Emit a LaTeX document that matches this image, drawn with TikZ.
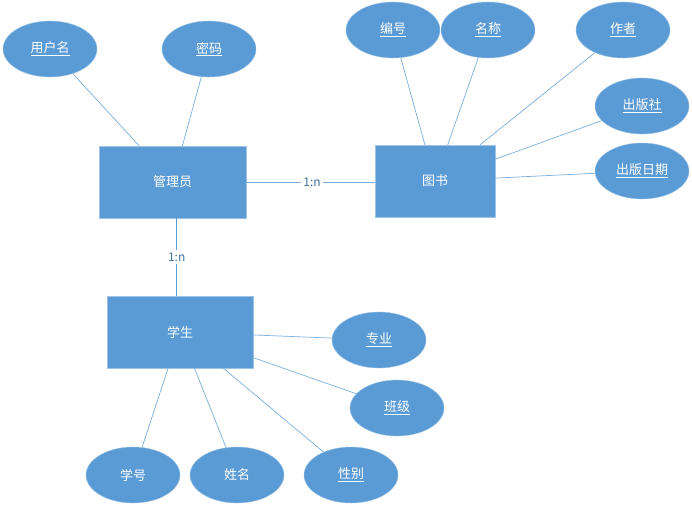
\documentclass[tikz,border=0pt]{standalone}
\usepackage{fontspec}
\setmainfont{Noto Sans CJK SC}
\usepackage{xcolor}
\usetikzlibrary{shapes.geometric}
\definecolor{erblue}{HTML}{5B9BD5}
\definecolor{erline}{HTML}{7AAEDD}
\definecolor{ertext}{HTML}{41719C}

\begin{document}
\begin{tikzpicture}[x=1pt,y=-1pt,
	entity/.style={rectangle, fill=erblue, draw=erblue!60!white, minimum width=147pt, minimum height=72pt, inner sep=0pt, text=white, font=\fontsize{13}{13}\selectfont},
	attr/.style={ellipse, fill=erblue, draw=erblue!60!white, minimum width=94pt, minimum height=56pt, inner sep=0pt, text=white, font=\fontsize{13}{13}\selectfont},
	rel/.style={inner sep=2pt, text=ertext, font=\fontsize{12}{12}\selectfont},
	conn/.style={draw=erline, line width=0.7pt}]
\useasboundingbox (0,0) rectangle (692,506);

% entities
\node[entity] (admin) at (172.5,182) {管理员};
\node[entity, minimum width=120pt] (book) at (435,181) {图书};
\node[entity, minimum width=146pt] (stu) at (180,332) {学生};

% attributes
\foreach \n/\x/\y/\t in {uname/50/49/\underline{用户名}, pwd/209/49/\underline{密码},
	bno/393/30/\underline{编号}, bname/488/30/\underline{名称}, author/623/30/\underline{作者},
	press/642/106/\underline{出版社}, pdate/642/171/\underline{出版日期},
	major/379/340/\underline{专业}, class/397/408/\underline{班级},
	sno/133/475/学号, sname/237/475/姓名, sex/351/475/\underline{性别}}{
	\node[attr] (\n) at (\x,\y) {\t};
	}

\foreach \n in {uname,pwd}{
	\draw[conn] (\n) -- (admin);
	}
\foreach \n in {bno,bname,author,press,pdate}{
	\draw[conn] (\n) -- (book);
	}
\foreach \n in {major,class,sno,sname,sex}{
	\draw[conn] (\n) -- (stu);
	}

% relations
\node[rel] (r1) at (312,182) {1:n};
\draw[conn] (admin.east) -- (r1.west);
\draw[conn] (r1.east) -- (r1.east -| book.west);
\node[rel] (r2) at (176.7,257) {1:n};
\draw[conn, draw=erblue] (admin.south -| r2) -- (r2.north);
\draw[conn, draw=erblue] (r2.south) -- (stu.north -| r2);
\end{tikzpicture}
\end{document}
